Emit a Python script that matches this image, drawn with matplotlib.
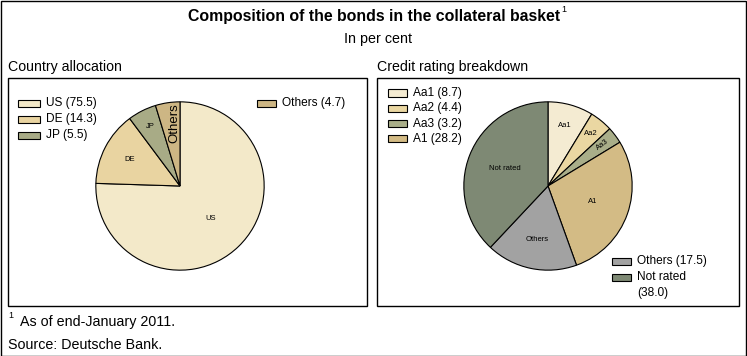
import matplotlib
matplotlib.use("Agg")
import matplotlib.pyplot as plt
from matplotlib.patches import Rectangle
import numpy as np

plt.rcParams['font.family'] = ['Liberation Sans', 'DejaVu Sans']

# ---- data ----
country_labels = ["US", "DE", "JP", "Others"]
country_values = [75.5, 14.3, 5.5, 4.7]
country_colors = ["#F3E9C9", "#E9D4A1", "#A8AB86", "#CDB684"]

rating_labels = ["Aa1", "Aa2", "Aa3", "A1", "Others", "Not rated"]
rating_values = [8.7, 4.4, 3.2, 28.2, 17.5, 38.0]
rating_colors = ["#F4EBD2", "#EAD7A2", "#A9AE89", "#D3BB85", "#A2A2A2", "#7E8974"]

W, H = 747, 356
fig = plt.figure(figsize=(W / 100, H / 100), dpi=100)


def fx(px):
    return px / W


def fy(py):
    return 1 - py / H


def ftext(px, py, s, **kw):
    return fig.text(fx(px), fy(py), s, **kw)


def frect(x0, y0, x1, y1, **kw):
    fig.patches.append(Rectangle((fx(x0), fy(y1)), fx(x1) - fx(x0), fy(y0) - fy(y1),
                                 transform=fig.transFigure, figure=fig, **kw))


# outer frame
frect(0.5, 0.5, 746, 355.5, fill=False, edgecolor="black", linewidth=1.0)

# titles
t = ftext(374, 16, "Composition of the bonds in the collateral basket", ha="center", va="center",
          fontsize=11.4, fontweight="bold")
fig.canvas.draw()
bb = t.get_window_extent()
fig.text(bb.x1 / W + 1.5 / W, fy(9), "1", ha="left", va="center", fontsize=6.5)
ftext(378, 39, "In per cent", ha="center", va="center", fontsize=10.3)

# panel headings and boxes
ftext(8, 67, "Country allocation", ha="left", va="center", fontsize=10.2)
ftext(377, 67, "Credit rating breakdown", ha="left", va="center", fontsize=10.2)
frect(8, 78, 367, 306, fill=False, edgecolor="black", linewidth=1.0)
frect(377, 78, 739, 306, fill=False, edgecolor="black", linewidth=1.0)

# footnotes
ftext(8, 315, "1", ha="left", va="center", fontsize=6.5)
ftext(20, 322, "As of end-January 2011.", ha="left", va="center", fontsize=10.3)
ftext(8, 345, "Source: Deutsche Bank.", ha="left", va="center", fontsize=10.3)

R = 85


def pie_axes(cx, cy):
    ax = fig.add_axes([fx(cx - R), fy(cy + R), fx(2 * R), (2 * R) / H])
    ax.axis("off")
    return ax


def draw_pie(ax, values, colors, labels, dists, sizes, rots, shifts):
    wedges, _ = ax.pie(values, colors=colors, startangle=90, counterclock=False,
                       radius=1, wedgeprops=dict(edgecolor="black", linewidth=0.8))
    ax.set_xlim(-1.01, 1.01)
    ax.set_ylim(-1.01, 1.01)
    for w, lab, d, s, r, sh in zip(wedges, labels, dists, sizes, rots, shifts):
        ang = np.deg2rad((w.theta1 + w.theta2) / 2)
        ax.text(d * np.cos(ang) + sh, d * np.sin(ang), lab, ha="center", va="center",
                fontsize=s, rotation=r)
    return wedges


axL = pie_axes(180, 186)
draw_pie(axL, country_values, country_colors, country_labels,
         [0.53, 0.67, 0.79, 0.76], [5.5, 5.5, 5.5, 9.5], [0, 0, 0, 90],
         [0, 0, 0, 0.05])

axR = pie_axes(548, 186)
draw_pie(axR, rating_values, rating_colors, rating_labels,
         [0.75, 0.8, 0.81, 0.56, 0.65, 0.55], [5.5, 5.5, 5.5, 5.5, 5.5, 5.5],
         [0, 0, 37, 0, 0, 0], [0, 0, 0, 0, 0, 0])


def legend_entry(x0, w, y, color, text):
    frect(x0, y - 3.5, x0 + w, y + 3.5, facecolor=color, edgecolor="black", linewidth=0.8)
    ftext(x0 + w + 6, y, text, ha="left", va="center", fontsize=8.6)


# left legend
for i in range(3):
    legend_entry(18, 22, 103 + 16 * i, country_colors[i],
                 f"{country_labels[i]} ({country_values[i]})")
legend_entry(257, 19, 103, country_colors[3], f"{country_labels[3]} ({country_values[3]})")

# right legend
for i in range(4):
    legend_entry(388, 19, 93 + 15.3 * i, rating_colors[i],
                 f"{rating_labels[i]} ({rating_values[i]})")
legend_entry(612, 19, 261, rating_colors[4], f"{rating_labels[4]} ({rating_values[4]})")
legend_entry(612, 19, 277, rating_colors[5], f"{rating_labels[5]}")
ftext(637, 293, f"({rating_values[5]})", ha="left", va="center", fontsize=8.6)

fig.savefig("out.png", dpi=100)
